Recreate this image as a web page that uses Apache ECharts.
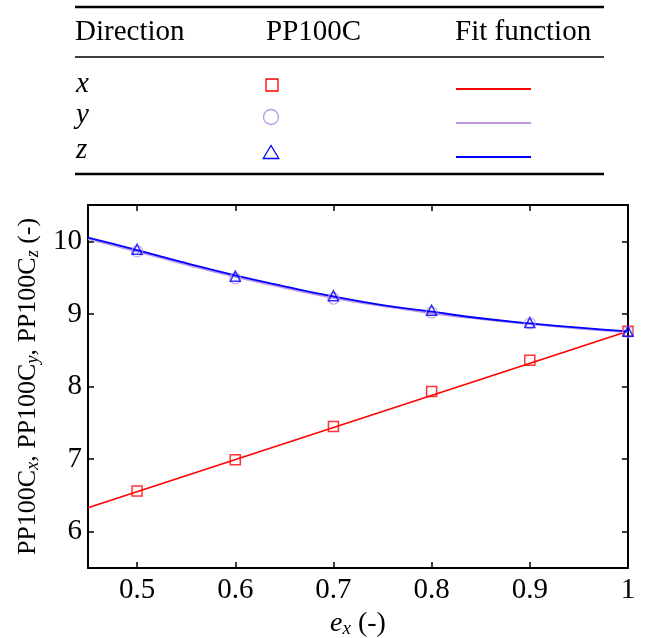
<!DOCTYPE html>
<html>
<head>
<meta charset="utf-8">
<script src="https://cdn.jsdelivr.net/npm/echarts@6/dist/echarts.min.js"></script>
<style>
  html, body { margin: 0; padding: 0; background: #fff; }
  #chart { width: 648px; height: 638px; }
</style>
</head>
<body>
<div id="chart"></div>
<script>
// measured points (PP100C)
var ex = [0.5, 0.6, 0.7, 0.8, 0.9, 1.0];
var ppX = [6.56, 6.99, 7.45, 7.93, 8.36, 8.76];
var ppY = [9.86, 9.49, 9.21, 9.02, 8.87, 8.75];
var ppZ = [9.89, 9.52, 9.25, 9.05, 8.88, 8.76];

// fit functions
var fitXe = [0.45, 1.0];
var fitX = [6.33, 8.76];
var fitE = [0.45, 0.5, 0.55, 0.6, 0.65, 0.7, 0.75, 0.8, 0.85, 0.9, 0.95, 1.0];
var fitY = [10.03, 9.86, 9.68, 9.51, 9.36, 9.22, 9.11, 9.01, 8.93, 8.86, 8.80, 8.75];
var fitZ = [10.05, 9.88, 9.70, 9.53, 9.38, 9.24, 9.12, 9.03, 8.94, 8.87, 8.81, 8.76];

var xTicks = [0.5, 0.6, 0.7, 0.8, 0.9, 1];
var yTicks = [6, 7, 8, 9, 10];

var RED = "#ff0000", PURPLE = "#bd96e6", BLUE = "#0000ff";
var FONT = "Liberation Serif";

function pairs(xs, ys) {
  return xs.map(function (v, i) { return [v, ys[i]]; });
}

var chart = echarts.init(document.getElementById("chart"));

var axisCommon = {
  axisLine: { show: true, onZero: false, lineStyle: { color: "#000", width: 2 } },
  axisTick: { show: true, inside: true, length: 6, lineStyle: { color: "#000", width: 1.5 } },
  splitLine: { show: false }
};

// table above the plot (legend)
var tableG = [];
[[7, 2.5], [57, 1.5], [174, 2.5]].forEach(function (r) {
  tableG.push({ type: "line", shape: { x1: 75, y1: r[0], x2: 604, y2: r[0] },
    style: { stroke: "#000", lineWidth: r[1] } });
});
[["Direction", 75], ["PP100C", 266], ["Fit function", 455]].forEach(function (h) {
  tableG.push({ type: "text", x: h[1], y: 32,
    style: { text: h[0], font: "29px '" + FONT + "'", fill: "#000", verticalAlign: "middle" } });
});
[["x", 84], ["y", 115], ["z", 150]].forEach(function (r) {
  tableG.push({ type: "text", x: 76, y: r[1],
    style: { text: r[0], font: "italic 29px '" + FONT + "'", fill: "#000", verticalAlign: "middle" } });
});
tableG.push({ type: "rect", shape: { x: 266, y: 79, width: 12, height: 12 },
  style: { fill: "none", stroke: RED, lineWidth: 1.3 } });
tableG.push({ type: "circle", shape: { cx: 271, cy: 117, r: 7.5 },
  style: { fill: "none", stroke: PURPLE, lineWidth: 1.3 } });
tableG.push({ type: "polygon", shape: { points: [[271, 145.5], [263.2, 158.5], [278.8, 158.5]] },
  style: { fill: "none", stroke: BLUE, lineWidth: 1.3 } });
[[89, RED], [123, PURPLE], [157, BLUE]].forEach(function (l) {
  tableG.push({ type: "line", shape: { x1: 456, y1: l[0], x2: 531, y2: l[0] },
    style: { stroke: l[1], lineWidth: 2 } });
});

var option = {
  backgroundColor: "#fff",
  animation: false,
  textStyle: { fontFamily: FONT },
  grid: { left: 88, right: 20, top: 205, bottom: 70, containLabel: false, outerBoundsMode: "none" },
  graphic: tableG,
  xAxis: [
    Object.assign({}, axisCommon, {
      type: "value", min: 0.45, max: 1, position: "bottom",
      name: "{i|e}{s|x}{n| (-)}", nameLocation: "middle", nameGap: 37,
      nameTextStyle: {
        rich: {
          i: { fontFamily: FONT, fontSize: 28, fontStyle: "italic", lineHeight: 30, color: "#000" },
          s: { fontFamily: FONT, fontSize: 19, fontStyle: "italic", lineHeight: 16, verticalAlign: "bottom", color: "#000" },
          n: { fontFamily: FONT, fontSize: 28, lineHeight: 30, color: "#000" }
        }
      },
      axisTick: Object.assign({}, axisCommon.axisTick, { customValues: xTicks }),
      axisLabel: { customValues: xTicks, fontFamily: FONT, fontSize: 29, color: "#000", margin: 8,
        formatter: function (v) { return v === 1 ? "1" : String(v); } }
    }),
    Object.assign({}, axisCommon, {
      type: "value", min: 0.45, max: 1, position: "top",
      axisTick: Object.assign({}, axisCommon.axisTick, { customValues: xTicks }),
      axisLabel: { show: false }
    })
  ],
  yAxis: [
    Object.assign({}, axisCommon, {
      type: "value", min: 5.5, max: 10.5, position: "left",
      name: "{n|PP100C}{s|x}{n|, PP100C}{s|y}{n|, PP100C}{s|z}{n| (-)}",
      nameLocation: "middle", nameGap: 42, nameRotate: 90,
      nameTextStyle: {
        rich: {
          n: { fontFamily: FONT, fontSize: 26, lineHeight: 28, color: "#000" },
          s: { fontFamily: FONT, fontSize: 18, fontStyle: "italic", lineHeight: 15, verticalAlign: "bottom", color: "#000" }
        }
      },
      axisTick: Object.assign({}, axisCommon.axisTick, { customValues: yTicks }),
      axisLabel: { customValues: yTicks, fontFamily: FONT, fontSize: 29, color: "#000", margin: 6 }
    }),
    Object.assign({}, axisCommon, {
      type: "value", min: 5.5, max: 10.5, position: "right",
      axisTick: Object.assign({}, axisCommon.axisTick, { customValues: yTicks }),
      axisLabel: { show: false }
    })
  ],
  series: [
    { name: "fit x", type: "line", data: pairs(fitXe, fitX), showSymbol: false,
      lineStyle: { color: RED, width: 1.5 }, z: 2 },
    { name: "fit y", type: "line", data: pairs(fitE, fitY), showSymbol: false, smooth: true,
      lineStyle: { color: PURPLE, width: 2 }, z: 2 },
    { name: "fit z", type: "line", data: pairs(fitE, fitZ), showSymbol: false, smooth: true,
      lineStyle: { color: BLUE, width: 1.8 }, z: 3 },
    { name: "x", type: "scatter", data: pairs(ex, ppX), symbol: "rect", symbolSize: 10,
      itemStyle: { color: "rgba(0,0,0,0)", borderColor: RED, borderWidth: 1.5 }, z: 4 },
    { name: "y", type: "scatter", data: pairs(ex, ppY), symbol: "circle", symbolSize: 11,
      itemStyle: { color: "rgba(0,0,0,0)", borderColor: PURPLE, borderWidth: 1.3 }, z: 4 },
    { name: "z", type: "scatter", data: pairs(ex, ppZ), symbol: "triangle", symbolSize: 10,
      itemStyle: { color: "rgba(0,0,0,0)", borderColor: BLUE, borderWidth: 1.5 }, z: 5 }
  ]
};

chart.setOption(option);
</script>
</body>
</html>
